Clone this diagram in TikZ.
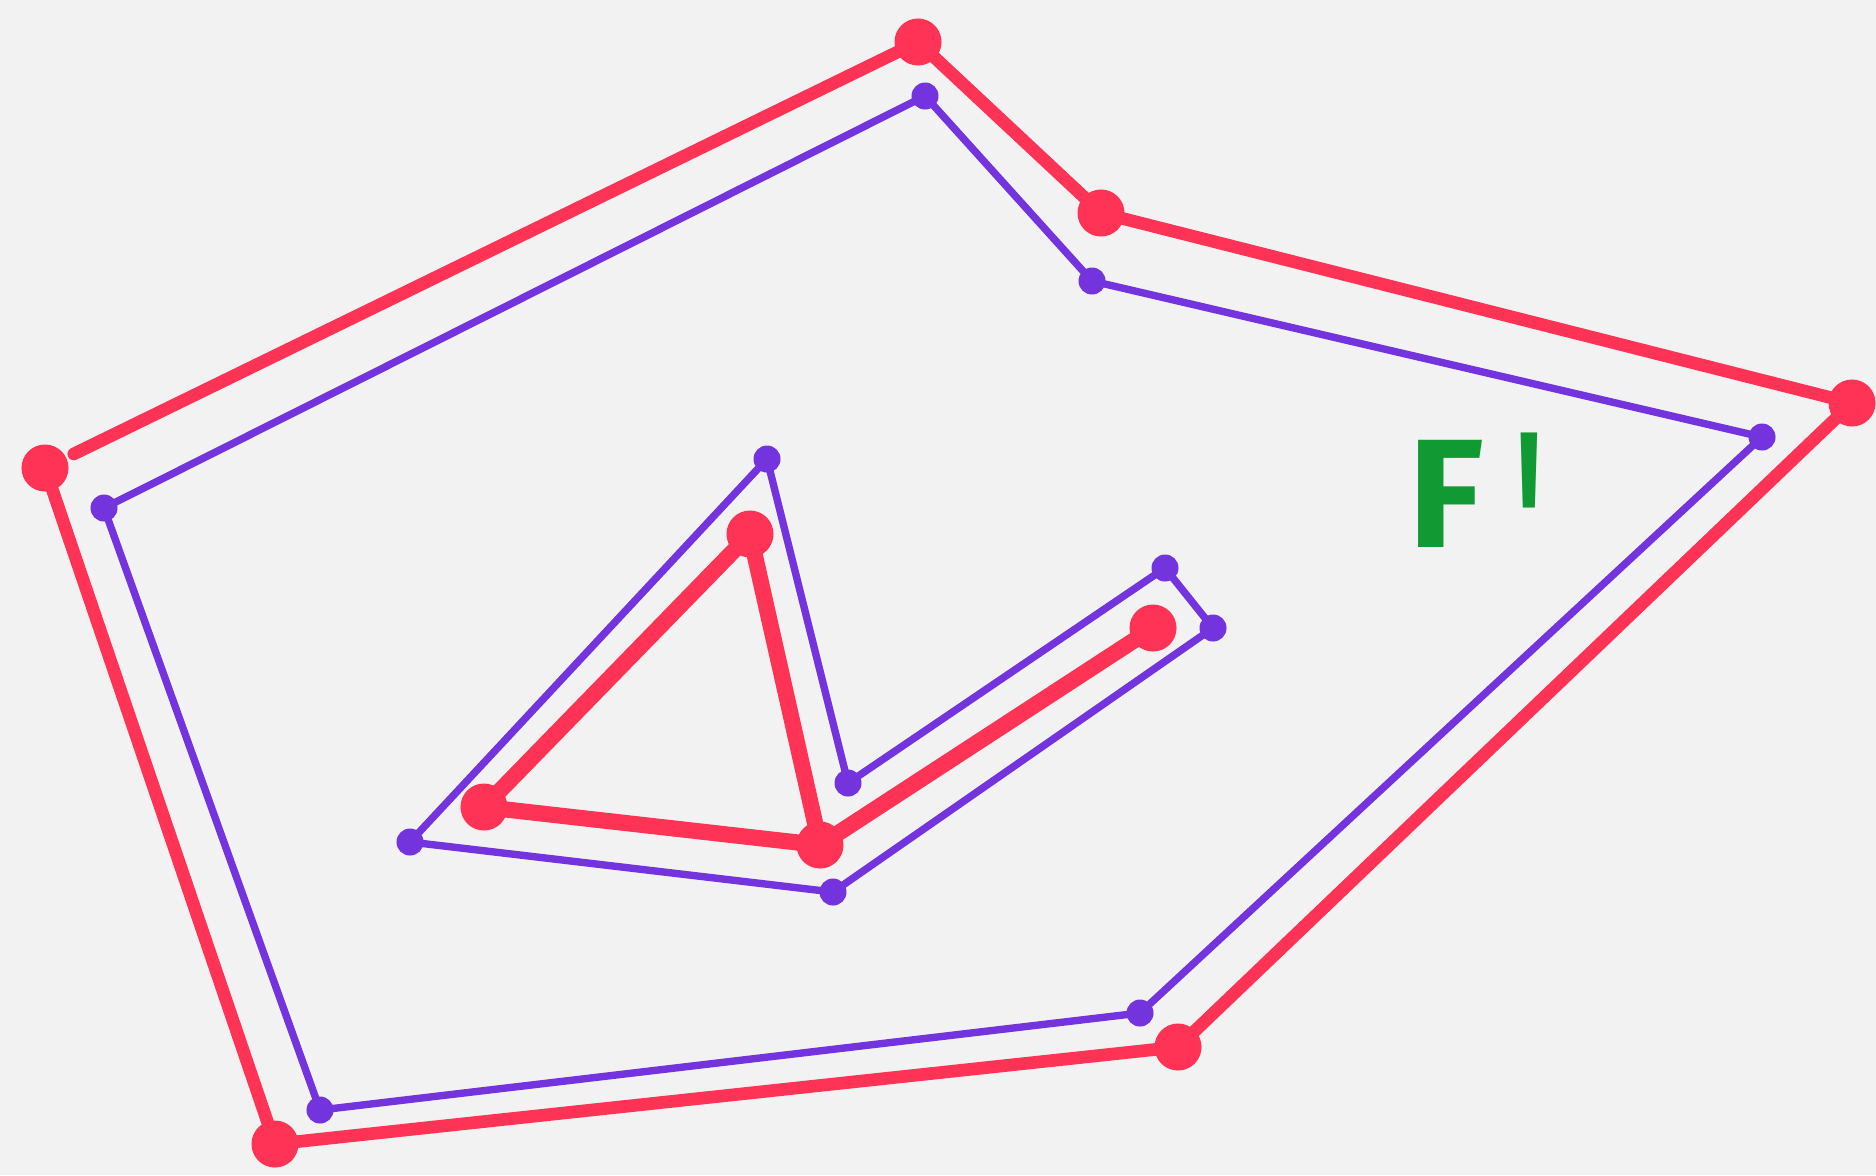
\documentclass[tikz,border=0pt]{standalone}
\usepackage{fontspec}
\setsansfont{Fira Sans}
\definecolor{ptred}{HTML}{FF3355}
\definecolor{ptpurple}{HTML}{7333DD}
\definecolor{ptgreen}{HTML}{119933}
\definecolor{paper}{HTML}{F2F2F2}

\begin{document}
\begin{tikzpicture}[x=0.01cm, y=-0.01cm,
    reddot/.style={circle, fill=ptred, inner sep=0pt, minimum size=0.47cm},
    purpledot/.style={circle, fill=ptpurple, inner sep=0pt, minimum size=0.27cm},
    redline/.style={draw=ptred, line width=3.6pt, line cap=round, line join=round},
    purpleline/.style={draw=ptpurple, line width=2.1pt, line cap=round, line join=round},
    facelabel/.style={text=ptgreen, font=\sffamily\bfseries\fontsize{44}{44}\selectfont, inner sep=0pt, anchor=base west}
]
\fill[paper] (0,0) rectangle (1876,1175);
\useasboundingbox (0,0) rectangle (1876,1175);

% outer boundary
\node[reddot] (r1) at (918,42) {};
\node[reddot] (r2) at (1101,213) {};
\node[reddot] (r3) at (1852,403) {};
\node[reddot] (r4) at (1178,1047) {};
\node[reddot] (r5) at (275,1144) {};
\node[reddot] (r6) at (45,468) {};

\draw[redline] (r1.center) -- (r2.center) -- (r3.center) -- (r4.center) -- (r5.center) -- (r6.center);
\draw[redline, shorten <=0.32cm] (r6.center) -- (r1.center);

% offset of the outer boundary
\node[purpledot] (p1) at (925,96) {};
\node[purpledot] (p2) at (1092,281) {};
\node[purpledot] (p3) at (1762,437) {};
\node[purpledot] (p4) at (1140,1013) {};
\node[purpledot] (p5) at (320,1110) {};
\node[purpledot] (p6) at (104,508) {};

\draw[purpleline] (p1.center) -- (p2.center) -- (p3.center) -- (p4.center) -- (p5.center) -- (p6.center) -- cycle;

% hole
\node[reddot] (t1) at (750,534) {};
\node[reddot] (t2) at (484,807) {};
\node[reddot] (t3) at (820,845) {};
\node[reddot] (t4) at (1153,628) {};

\draw[redline, line width=4.6pt] (t1.center) -- (t2.center) -- (t3.center) -- cycle;
\draw[redline, line width=4.6pt] (t3.center) -- (t4.center);

% offset of the hole
\node[purpledot] (q1) at (767,459) {};
\node[purpledot] (q2) at (848,783) {};
\node[purpledot] (q3) at (1165,568) {};
\node[purpledot] (q4) at (1213,628) {};
\node[purpledot] (q5) at (833,892) {};
\node[purpledot] (q6) at (410,842) {};

\draw[purpleline] (q6.center) -- (q1.center) -- (q2.center) -- (q3.center) -- (q4.center) -- (q5.center) -- cycle;

\node[facelabel] (face) at (1408,547) {F\kern0.2em\raisebox{-0.47em}{\scalebox{0.75}[1.74]{\textquotesingle}}};
\end{tikzpicture}
\end{document}
